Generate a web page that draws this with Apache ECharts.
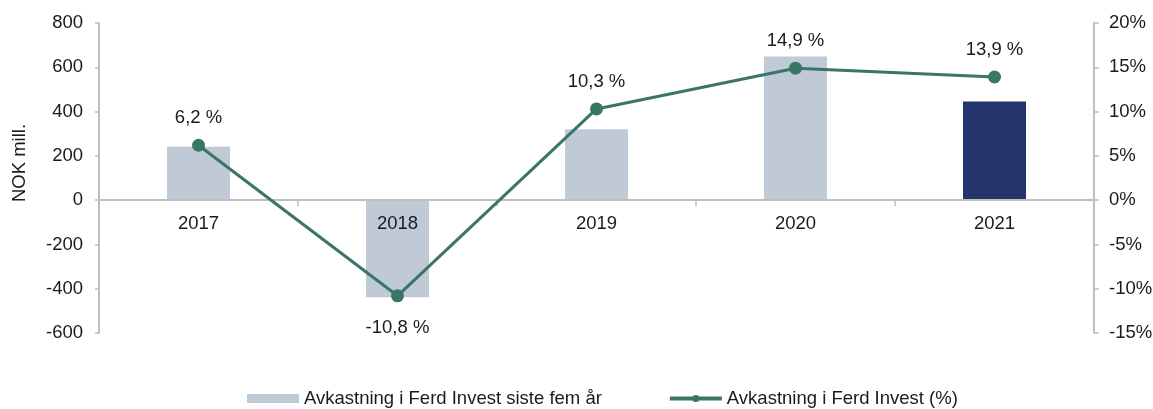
<!DOCTYPE html>
<html>
<head>
<meta charset="utf-8">
<script src="https://cdn.jsdelivr.net/npm/echarts@6/dist/echarts.min.js"></script>
<style>
  html, body { margin: 0; padding: 0; background: #fff; }
  #chart { width: 1153px; height: 409px; }
</style>
</head>
<body>
<div id="chart"></div>
<script>
// data
const years = ['2017', '2018', '2019', '2020', '2021'];
const returnsNok = [241, -438, 320, 649, 445];
const returnsPct = [6.2, -10.8, 10.3, 14.9, 13.9];
const barName = 'Avkastning i Ferd Invest siste fem år';
const lineName = 'Avkastning i Ferd Invest (%)';

const font = 'Liberation Sans, Arial, sans-serif';
const fontSize = 18.5;
const textColor = '#1a1a1a';
const axisGrey = '#bfbfbf';
const barGrey = '#bfcad6';
const barNavy = '#24356d';
const lineGreen = '#3a7566';

const nokMin = -600, nokMax = 800;
const gridTop = 23, gridBottom = 76;
const chartHeight = 409;

// the category axis sits on the zero line of the left axis
const plotHeight = chartHeight - gridTop - gridBottom;
const zeroOffset = plotHeight * (0 - nokMin) / (nokMax - nokMin);

const chart = echarts.init(document.getElementById('chart'));

chart.setOption({
    animation: false,
    textStyle: { fontFamily: font, color: textColor },
    grid: { left: 99, right: 59, top: gridTop, bottom: gridBottom, outerBoundsMode: 'none' },
    legend: {
        top: 389,
        left: 247,
        padding: 0,
        itemWidth: 52,
        itemHeight: 9,
        itemGap: 66,
        textStyle: { fontFamily: font, fontSize: fontSize, color: textColor },
        data: [
            { name: barName, icon: 'rect' },
            { name: lineName, lineStyle: { width: 4 } }
        ]
    },
    xAxis: {
        type: 'category',
        data: years,
        z: 2,
        offset: -zeroOffset,
        axisLine: { onZero: false, lineStyle: { color: axisGrey, width: 2 } },
        axisTick: { show: true, length: 6, lineStyle: { color: axisGrey, width: 1.5 } },
        axisLabel: { fontFamily: font, fontSize: fontSize, color: textColor, margin: 14 }
    },
    yAxis: [{
        type: 'value',
        min: nokMin,
        max: nokMax,
        interval: 200,
        splitLine: { show: false },
        axisLine: { show: true, lineStyle: { color: axisGrey, width: 2 } },
        axisTick: { show: true, length: 4, lineStyle: { color: axisGrey, width: 1.5 } },
        axisLabel: { fontFamily: font, fontSize: fontSize, color: textColor, margin: 16 }
    }, {
        type: 'value',
        min: -15,
        max: 20,
        interval: 5,
        splitLine: { show: false },
        axisLine: { show: true, lineStyle: { color: axisGrey, width: 2 } },
        axisTick: { show: true, length: 5, lineStyle: { color: axisGrey, width: 1.5 } },
        axisLabel: { fontFamily: font, fontSize: fontSize, color: textColor, margin: 15, formatter: '{value}%' }
    }],
    graphic: [{
        type: 'text',
        x: 10,
        y: 163,
        rotation: Math.PI / 2,
        style: {
            text: 'NOK mill.',
            fontFamily: font,
            fontSize: fontSize,
            fill: textColor,
            align: 'center',
            verticalAlign: 'top'
        }
    }],
    series: [{
        name: barName,
        type: 'bar',
        z: 1,
        barWidth: 63,
        itemStyle: { color: barGrey },
        data: returnsNok.map((v, i) => ({
            value: v,
            itemStyle: { color: i === returnsNok.length - 1 ? barNavy : barGrey }
        }))
    }, {
        name: lineName,
        type: 'line',
        z: 3,
        yAxisIndex: 1,
        symbol: 'circle',
        symbolSize: 13,
        lineStyle: { color: lineGreen, width: 3 },
        itemStyle: { color: lineGreen },
        label: {
            show: true,
            fontFamily: font,
            fontSize: fontSize,
            color: textColor,
            formatter: p => p.value.toFixed(1).replace('.', ',') + ' %'
        },
        data: returnsPct.map(v => ({
            value: v,
            label: v < 0 ? { position: 'bottom', distance: 16 } : { position: 'top', distance: 11 }
        }))
    }]
});
</script>
</body>
</html>
